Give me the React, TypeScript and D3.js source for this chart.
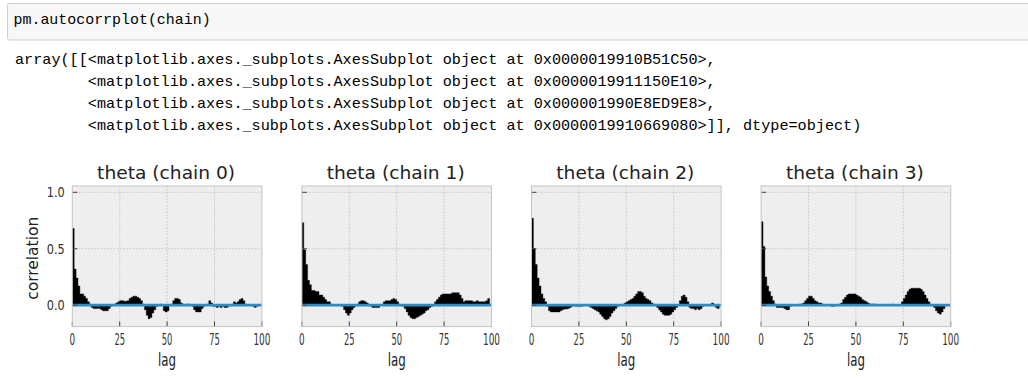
import React from "react";
import * as d3 from "d3";

// ---------- data (autocorrelation per lag 1..99) ----------
const LAGS = d3.range(1, 100);

const chain0 = [
  0.68, 0.32, 0.24, 0.17, 0.1, 0.1, 0.08, 0.06, 0.03, 0.01,
  -0.02, -0.03, -0.03, -0.03, -0.03, -0.04, -0.05, -0.05, -0.05, -0.03,
  -0.01, 0.0, 0.01, 0.02, 0.03, 0.04, 0.04, 0.035, 0.035, 0.04,
  0.06, 0.07, 0.08, 0.08, 0.07, 0.06, 0.04, 0.01, -0.04, -0.09,
  -0.12, -0.11, -0.07, -0.04, -0.01, 0.0, 0.01, 0.0, -0.05, -0.06,
  -0.05, 0.0, 0.01, 0.04, 0.06, 0.06, 0.05, 0.02, 0.01, 0.0,
  0.01, 0.01, 0.0, -0.01, -0.04, -0.06, -0.06, -0.06, -0.03, -0.01,
  0.0, 0.01, 0.04, 0.02, -0.01, -0.01, -0.02, -0.01, -0.02, -0.01,
  -0.02, -0.02, -0.01, 0.0, 0.01, 0.03, 0.02, 0.03, 0.05, 0.06,
  0.04, 0.01, 0.0, 0.0, 0.0, -0.01, -0.02, -0.01, 0.0,
];

const chain1 = [
  0.73, 0.49, 0.36, 0.22, 0.18, 0.13, 0.13, 0.12, 0.12, 0.09,
  0.09, 0.07, 0.05, 0.03, 0.03, 0.01, 0.0, 0.0, 0.0, 0.0,
  0.0, -0.01, -0.04, -0.07, -0.09, -0.07, -0.04, -0.02, 0.0, 0.01,
  0.03, 0.04, 0.04, 0.03, 0.02, 0.0, -0.01, -0.02, -0.02, -0.02,
  -0.02, 0.0, 0.01, 0.03, 0.04, 0.04, 0.04, 0.05, 0.06, 0.05,
  0.03, 0.01, 0.0, -0.01, -0.03, -0.06, -0.09, -0.11, -0.12, -0.12,
  -0.11, -0.1, -0.09, -0.08, -0.07, -0.05, -0.04, -0.02, -0.01, 0.0,
  0.03, 0.05, 0.07, 0.09, 0.1, 0.1, 0.1, 0.1, 0.1, 0.11,
  0.11, 0.11, 0.11, 0.09, 0.06, 0.03, 0.04, 0.04, 0.04, 0.04,
  0.03, 0.03, 0.04, 0.03, 0.03, 0.03, 0.03, 0.04, 0.06,
];

const chain2 = [
  0.77, 0.5, 0.36, 0.24, 0.17, 0.1, 0.06, 0.03, -0.01, -0.05,
  -0.06, -0.06, -0.06, -0.06, -0.06, -0.05, -0.04, -0.035, -0.035, -0.03,
  -0.02, -0.01, 0.0, -0.01, -0.01, -0.01, -0.01, 0.0, 0.0, 0.0,
  -0.01, -0.02, -0.03, -0.04, -0.05, -0.06, -0.08, -0.1, -0.12, -0.13,
  -0.12, -0.1, -0.07, -0.05, -0.03, -0.01, 0.0, 0.0, 0.01, 0.02,
  0.03, 0.04, 0.05, 0.06, 0.08, 0.1, 0.12, 0.12, 0.11, 0.08,
  0.06, 0.05, 0.04, 0.02, 0.01, 0.0, -0.02, -0.04, -0.06, -0.08,
  -0.09, -0.09, -0.09, -0.08, -0.06, -0.04, -0.02, 0.0, 0.04, 0.08,
  0.09, 0.07, 0.03, -0.02, -0.03, -0.03, -0.04, -0.03, -0.04, -0.03,
  -0.01, 0.0, 0.0, 0.0, 0.01, 0.02, 0.0, -0.02, -0.03,
];

const chain3 = [
  0.74, 0.52, 0.25, 0.17, 0.12, 0.08, 0.04, 0.01, -0.02, -0.02,
  -0.02, -0.02, -0.03, -0.04, -0.04, -0.01, 0.0, 0.0, 0.0, 0.0,
  0.01, 0.01, 0.02, 0.04, 0.06, 0.08, 0.08, 0.06, 0.04, 0.03,
  0.02, 0.02, 0.01, 0.0, 0.0, 0.0, 0.0, -0.01, -0.01, 0.0,
  0.0, 0.01, 0.02, 0.05, 0.07, 0.09, 0.1, 0.1, 0.1, 0.1,
  0.09, 0.08, 0.07, 0.05, 0.04, 0.03, 0.02, 0.01, 0.01, 0.01,
  0.01, 0.0, 0.0, 0.0, 0.0, 0.0, 0.0, 0.0, 0.0, 0.01,
  0.0, 0.0, 0.0, 0.0, 0.03, 0.06, 0.09, 0.12, 0.14, 0.15,
  0.15, 0.15, 0.15, 0.15, 0.14, 0.12, 0.09, 0.06, 0.03, 0.01,
  0.0, -0.02, -0.05, -0.07, -0.08, -0.06, -0.03, 0.0, 0.0,
];

const CHAINS = [chain0, chain1, chain2, chain3];
const TITLES = ["theta (chain 0)", "theta (chain 1)", "theta (chain 2)", "theta (chain 3)"];
const X_TICKS = [0, 25, 50, 75, 100];
const Y_TICKS = [0.0, 0.5, 1.0];
const Y_TICK_LABELS = ["0.0", "0.5", "1.0"];
const X_LABEL = "lag";
const Y_LABEL = "correlation";

const CODE_LINE = "pm.autocorrplot(chain)";
const OUTPUT_LINES = [
  "array([[<matplotlib.axes._subplots.AxesSubplot object at 0x0000019910B51C50>,",
  "        <matplotlib.axes._subplots.AxesSubplot object at 0x0000019911150E10>,",
  "        <matplotlib.axes._subplots.AxesSubplot object at 0x000001990E8ED9E8>,",
  "        <matplotlib.axes._subplots.AxesSubplot object at 0x0000019910669080>]], dtype=object)",
];

// ---------- layout ----------
const W = 1028;
const H = 392;
const PANEL_LEFT0 = 72.3;
const PANEL_STEP = 229.6;
const PANEL_W = 189.6;
const AX_TOP = 186;
const AX_BOTTOM = 326.6;
const CHAR_W = 9.1;
const MONO = "'Liberation Mono', 'DejaVu Sans Mono', monospace";
const SANS = "'DejaVu Sans', 'Noto Sans', sans-serif";

type Pt = { lag: number; v: number };

function Panel({ idx }: { idx: number }) {
  const left = PANEL_LEFT0 + idx * PANEL_STEP;
  const right = left + PANEL_W;
  const x = d3.scaleLinear().domain([0, 100]).range([left, right]);
  const y = d3.scaleLinear().domain([-0.19, 1.056]).range([AX_BOTTOM, AX_TOP]);
  const values = CHAINS[idx];
  const clipId = `clip-${idx}`;
  const cx = (left + right) / 2;
  const tickLabelWidth = (s: string) => (s.length === 1 ? 5.6 : s.length === 2 ? 10.6 : 17);

  // each lag k is drawn as a bar spanning [k-1, k]
  const pts: Pt[] = LAGS.map((lag, i) => ({ lag: lag - 1, v: values[i] }));
  pts.push({ lag: LAGS[LAGS.length - 1], v: values[values.length - 1] });
  const area = d3
    .area<Pt>()
    .curve(d3.curveStepAfter)
    .x((d) => x(d.lag))
    .y0(() => y(0))
    .y1((d) => y(d.v));

  return (
    <g>
      <defs>
        <clipPath id={clipId}>
          <rect x={left} y={AX_TOP} width={right - left} height={AX_BOTTOM - AX_TOP} />
        </clipPath>
      </defs>
      <rect x={left} y={AX_TOP} width={right - left} height={AX_BOTTOM - AX_TOP} fill="#eeeeee" />
      {/* grid */}
      {X_TICKS.filter((t) => t > 0 && t < 100).map((t) => (
        <line key={`gx${t}`} x1={x(t)} x2={x(t)} y1={AX_TOP} y2={AX_BOTTOM}
          stroke="#bdbdbd" strokeWidth={0.8} strokeDasharray="1.6,1.6" />
      ))}
      {Y_TICKS.filter((t) => t > 0).map((t) => (
        <line key={`gy${t}`} x1={left} x2={right} y1={y(t)} y2={y(t)}
          stroke="#bdbdbd" strokeWidth={0.8} strokeDasharray="1.6,1.6" />
      ))}
      {/* bars */}
      <g clipPath={`url(#${clipId})`}>
        <path d={area(pts) || ""} fill="#000" stroke="#000" strokeWidth={0.4} />
        <line x1={left} x2={right} y1={y(0)} y2={y(0)} stroke="#348ABD" strokeWidth={2.8} />
      </g>
      {/* ticks (inward) */}
      {X_TICKS.map((t) => (
        <line key={`tx${t}`} x1={x(t)} x2={x(t)} y1={AX_BOTTOM} y2={AX_BOTTOM - 5} stroke="#444" strokeWidth={1} />
      ))}
      {Y_TICKS.map((t) => (
        <line key={`ty${t}`} x1={left} x2={left + 5} y1={y(t)} y2={y(t)} stroke="#444" strokeWidth={1} />
      ))}
      {/* frame */}
      <rect x={left} y={AX_TOP} width={right - left} height={AX_BOTTOM - AX_TOP} fill="none" stroke="#c4c4c4" strokeWidth={1} />
      {/* x tick labels */}
      {X_TICKS.map((t) => {
        const s = String(t);
        return (
          <text key={`lx${t}`} x={x(t)} y={345} textAnchor="middle" fontFamily={SANS} fontSize={15.5}
            fill="#333" textLength={tickLabelWidth(s)} lengthAdjust="spacingAndGlyphs">{s}</text>
        );
      })}
      {/* y tick labels only on first panel */}
      {idx === 0 &&
        Y_TICKS.map((t, i) => (
          <text key={`ly${t}`} x={left - 7.5} y={y(t) + 5} textAnchor="end" fontFamily={SANS} fontSize={13.6}
            fill="#333" textLength={18} lengthAdjust="spacingAndGlyphs">{Y_TICK_LABELS[i]}</text>
        ))}
      {/* title */}
      <text x={cx - 1} y={178.5} textAnchor="middle" fontFamily={SANS} fontSize={18.5} fill="#222"
        textLength={138} lengthAdjust="spacingAndGlyphs">{TITLES[idx]}</text>
      {/* x label */}
      <text x={cx} y={365.5} textAnchor="middle" fontFamily={SANS} fontSize={18} fill="#222"
        textLength={18} lengthAdjust="spacingAndGlyphs">{X_LABEL}</text>
      {idx === 0 && (
        <text transform={`translate(38.3, ${258.3}) rotate(-90)`} textAnchor="middle" fontFamily={SANS}
          fontSize={16} fill="#222" textLength={83} lengthAdjust="spacingAndGlyphs">{Y_LABEL}</text>
      )}
    </g>
  );
}

export default function App() {
  return (
    <div style={{ position: "absolute", left: 0, top: 0, width: W, height: H, background: "#fff" }}>
      <svg width={W} height={H} viewBox={`0 0 ${W} ${H}`} style={{ display: "block" }}>
        <rect x={0} y={0} width={W} height={H} fill="#ffffff" />
        {/* code cell */}
        <rect x={7.5} y={3.5} width={W + 10} height={36.5} fill="#f7f7f7" stroke="#cfcfcf" strokeWidth={1} rx={2} />
        <text x={13.5} y={23.8} fontFamily={MONO} fontSize={15} fill="#000" style={{ whiteSpace: "pre" }}
          textLength={CODE_LINE.length * 8.96} lengthAdjust="spacingAndGlyphs">{CODE_LINE}</text>
        {/* output text */}
        {OUTPUT_LINES.map((line, i) => (
          <text key={i} x={15} y={64 + i * 22} fontFamily={MONO} fontSize={15} fill="#000"
            xmlSpace="preserve" style={{ whiteSpace: "pre" }}
            textLength={line.length * CHAR_W} lengthAdjust="spacingAndGlyphs">{line}</text>
        ))}
        {CHAINS.map((_, i) => (
          <Panel key={i} idx={i} />
        ))}
      </svg>
    </div>
  );
}
